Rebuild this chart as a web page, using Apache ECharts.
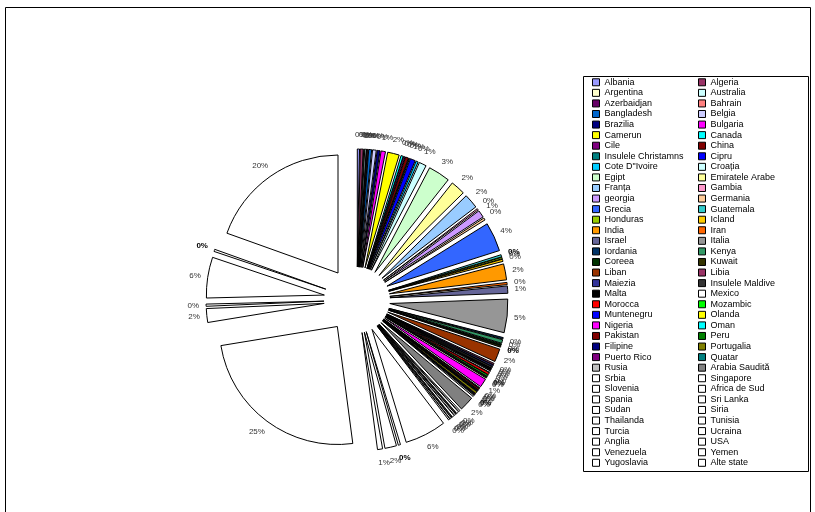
<!DOCTYPE html>
<html><head><meta charset="utf-8">
<script src="https://cdn.jsdelivr.net/npm/echarts/dist/echarts.min.js"></script>
<style>html,body{margin:0;padding:0;background:#fff}#c{width:815px;height:512px}</style>
</head><body><div id="c"></div>
<script>
const countries = ['Albania','Algeria','Argentina','Australia','Azerbaidjan','Bahrain','Bangladesh','Belgia','Brazilia','Bulgaria',
'Camerun','Canada','Cile','China','Insulele Christamns','Cipru','Cote D"Ivoire','Croația','Egipt','Emiratele Arabe',
'Franța','Gambia','georgia','Germania','Grecia','Guatemala','Honduras','Icland','India','Iran',
'Israel','Italia','Iordania','Kenya','Coreea','Kuwait','Liban','Libia','Maiezia','Insulele Maldive',
'Malta','Mexico','Morocca','Mozambic','Muntenegru','Olanda','Nigeria','Oman','Pakistan','Peru',
'Filipine','Portugalia','Puerto Rico','Quatar','Rusia','Arabia Saudită','Srbia','Singapore','Slovenia','Africa de Sud',
'Spania','Sri Lanka','Sudan','Siria','Thailanda','Tunisia','Turcia','Ucraina','Anglia','USA',
'Venezuela','Yemen','Yugoslavia','Alte state'];
const values = [0.3,0.4,0.1,0.2,0.1,0.1,0.4,0.5,0.4,0.6,
1.6,0.3,0.2,0.4,0.1,0.7,0.3,1.0,3.0,2.0,
2.0,0.2,1.0,0.3,4.0,0.3,0.2,0.3,2.2,0.3,
1.0,4.6,0.2,0.5,0.2,0.2,1.8,0.2,0.2,0.2,
0.3,0.2,0.3,0.2,0.1,0.1,1.2,0.1,0.2,0.1,
0.1,0.3,0.1,0.1,0.2,2.0,0.2,0.3,0.1,0.2,
0.3,0.1,0.2,0.2,5.7,0.3,1.6,0.7,24.6,1.9,
0.3,5.6,0.3,19.6];
const palette = ['#9999FF','#993366','#FFFFCC','#CCFFFF','#660066','#FF8080','#0066CC','#CCCCFF','#000080','#FF00FF',
'#FFFF00','#00FFFF','#800080','#800000','#008080','#0000FF','#00CCFF','#CCFFFF','#CCFFCC','#FFFF99',
'#99CCFF','#FF99CC','#CC99FF','#FFCC99','#3366FF','#33CCCC','#99CC00','#FFCC00','#FF9900','#FF6600',
'#666699','#969696','#003366','#339966','#003300','#333300','#993300','#993366','#333399','#333333',
'#000000','#FFFFFF','#FF0000','#00FF00','#0000FF','#FFFF00','#FF00FF','#00FFFF','#800000','#008000',
'#000080','#808000','#800080','#008080','#C0C0C0','#808080'];
const boldLabels = ['Guatemala','Kuwait','Mozambic','Puerto Rico','Tunisia','Yugoslavia'];

const total = values.reduce((a,b)=>a+b,0);
const FONT = '"Liberation Sans", Arial, sans-serif';
const PIE_CENTER = [357,300];
const data = countries.map((n,i)=>({
  name:n, value:values[i], selected:true,
  itemStyle:{color: i < palette.length ? palette[i] : '#FFFFFF'},
  label: boldLabels.includes(n) ? {fontWeight:'bold', color:'#000'} : undefined
}));
const leftNames = countries.filter((_,i)=>i%2===0);
const rightNames = countries.filter((_,i)=>i%2===1);
const legendCommon = {
  orient:'vertical', top:77, padding:0, itemGap:0, itemWidth:7, itemHeight:7, icon:'rect',
  selectedMode:false,
  itemStyle:{borderColor:'#000', borderWidth:1},
  textStyle:{fontFamily:FONT, fontSize:9, color:'#000', lineHeight:10.57}
};
const chart = echarts.init(document.getElementById('c'), null, {renderer:'canvas'});
chart.setOption({
  animation:false,
  backgroundColor:'#fff',
  graphic:[
    {type:'rect', shape:{x:5.5,y:7.5,width:805,height:520}, style:{fill:'none',stroke:'#000',lineWidth:1}},
    {type:'rect', shape:{x:583.5,y:76.5,width:225,height:395}, style:{fill:'#fff',stroke:'#000',lineWidth:1}, z:-1}
  ],
  legend:[
    Object.assign({left:592, data:leftNames}, legendCommon),
    Object.assign({left:698, data:rightNames}, legendCommon)
  ],
  series:[{
    type:'pie',
    center:PIE_CENTER,
    radius:[0,118],
    startAngle:90,
    clockwise:true,
    selectedMode:'multiple',
    selectedOffset:33,
    avoidLabelOverlap:false,
    labelLayout:function(p){
      const r = p.labelRect;
      const cx = r.x + r.width/2, cy = r.y + r.height/2;
      const a = Math.atan2(cy-PIE_CENTER[1], cx-PIE_CENTER[0]);
      const ux = Math.cos(a), uy = Math.sin(a);
      return {hideOverlap:false,
        dx: -Math.sign(ux)*(r.width/2)*(1-Math.abs(ux)),
        dy: uy*9};
    },
    emphasis:{disabled:true},
    itemStyle:{borderColor:'#000', borderWidth:1},
    select:{itemStyle:{borderColor:'#000', borderWidth:1}},
    label:{show:true, position:'outside', fontFamily:FONT, fontSize:8, color:'#333',
      distanceToLabelLine:2,
      formatter:p=>Math.round(p.value/total*100)+'%'},
    labelLine:{show:false, length:5, length2:0},
    data:data
  }]
});
</script></body></html>
